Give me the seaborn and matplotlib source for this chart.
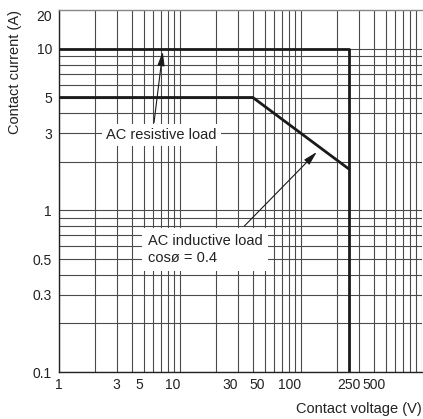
import numpy as np
import pandas as pd
import matplotlib
matplotlib.use("Agg")
import matplotlib.pyplot as plt
from matplotlib.ticker import LogLocator, FixedLocator, FixedFormatter, NullFormatter
import seaborn as sns

# Load curves (contact voltage V, contact current A)
resistive_v = [1, 250, 250]
resistive_a = [10, 10, 0.1]
inductive_v = [1, 40, 250]
inductive_a = [5, 5, 1.8]

x_ticks = [1, 3, 5, 10, 30, 50, 100, 250, 500]
x_tick_labels = ["1", "3", "5", "10", "30", "50", "100", "250", "500"]
y_ticks = [0.1, 0.3, 0.5, 1, 3, 5, 10]
y_tick_labels = ["0.1", "0.3", "0.5", "1", "3", "5", "10"]
y_top, y_top_label = 17.4, "20"

sns.set_theme(style="white")
plt.rcParams["font.family"] = ["Liberation Sans", "DejaVu Sans"]

fig = plt.figure(figsize=(4.23, 4.19), dpi=100)
ax = fig.add_axes([59 / 423, 1 - 372 / 419, 363 / 423, 362 / 419])

df = pd.concat([
    pd.DataFrame({"v": resistive_v, "a": resistive_a, "load": "resistive"}),
    pd.DataFrame({"v": inductive_v, "a": inductive_a, "load": "inductive"}),
])
sns.lineplot(data=df, x="v", y="a", units="load", estimator=None, sort=False,
             color="#1a1a1a", linewidth=2.0, ax=ax, zorder=4)

ax.set_xscale("log")
ax.set_yscale("log")
ax.set_xlim(1, 1000)
ax.set_ylim(0.1, y_top)

# grid on every 1..9 step of each decade
for axis in (ax.xaxis, ax.yaxis):
    axis.set_minor_locator(LogLocator(base=10, subs=np.arange(1, 10), numticks=20))
    axis.set_minor_formatter(NullFormatter())
    axis.remove_overlapping_locs = False
ax.grid(False, which="major")
ax.grid(True, which="minor", color="#4a4a4a", linewidth=0.8)

ax.xaxis.set_major_locator(FixedLocator(x_ticks))
ax.xaxis.set_major_formatter(FixedFormatter(x_tick_labels))
ax.yaxis.set_major_locator(FixedLocator(y_ticks + [y_top]))
ax.yaxis.set_major_formatter(FixedFormatter(y_tick_labels + [y_top_label]))
ax.tick_params(axis="both", which="both", length=0, labelsize=10, colors="#222222")
ax.tick_params(axis="x", pad=4)
ax.tick_params(axis="y", pad=5)

for lab, txt in zip(ax.get_xticklabels(), x_tick_labels):
    lab.set_ha("center" if txt in ("1", "3", "250") else "right")
for lab, txt in zip(ax.get_yticklabels(), y_tick_labels + [y_top_label]):
    if txt == y_top_label:
        lab.set_va("top")

ax.set_xlabel("")
ax.set_ylabel("")
for side in ("left", "bottom"):
    ax.spines[side].set_color("#222222")
    ax.spines[side].set_linewidth(1.0)
ax.spines["top"].set_color("#888888")
ax.spines["top"].set_linewidth(1.0)
ax.spines["right"].set_visible(False)

box = dict(boxstyle="square,pad=0.3", fc="white", ec="none")
arrow = dict(arrowstyle="-|>,head_length=0.7,head_width=0.18", color="#1a1a1a",
             lw=0.8, shrinkA=0, shrinkB=0)

ax.annotate("", xy=(7.2, 9.6), xytext=(6.1, 3.5), arrowprops=arrow, zorder=5)
ax.text(7.0, 2.93, "AC resistive load", ha="center", va="center", fontsize=10.5,
        color="#222222", bbox=box, zorder=6)

ax.annotate("", xy=(135, 2.3), xytext=(34, 0.8), arrowprops=arrow, zorder=5)
ax.text(5.4, 0.575, "AC inductive load\ncosø = 0.4", ha="left", va="center",
        fontsize=10.5, color="#222222", linespacing=1.3,
        bbox=dict(boxstyle="square,pad=0.4", fc="white", ec="none"), zorder=6)

fig.text(15 / 423, 1 - 10 / 419, "Contact current (A)", rotation=90,
         ha="center", va="top", fontsize=10.5, color="#222222")
fig.text(422 / 423, 1 - 409 / 419, "Contact voltage (V)", ha="right",
         va="center", fontsize=10.5, color="#222222")

fig.savefig("out.png", dpi=100)
